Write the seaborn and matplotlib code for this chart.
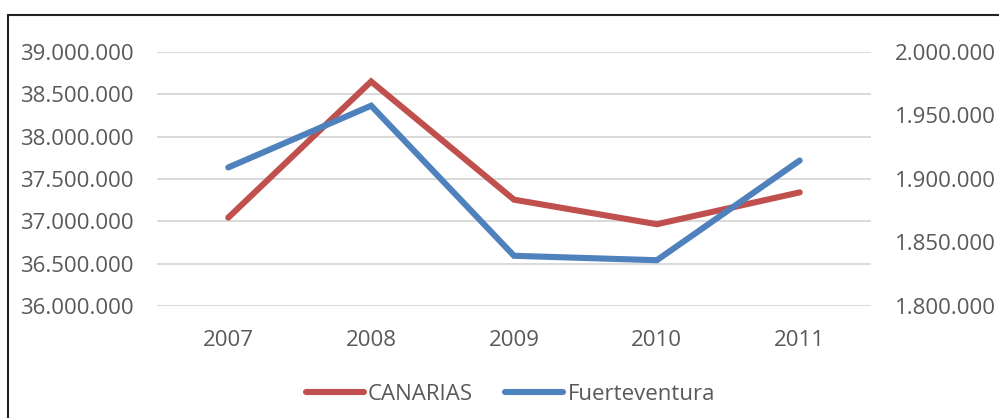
import pandas as pd
import matplotlib.pyplot as plt
import matplotlib.lines as mlines
import matplotlib.ticker as mticker
import seaborn as sns

# data
years = ["2007", "2008", "2009", "2010", "2011"]
canarias = [37043000, 38650000, 37255000, 36965000, 37341000]
fuerteventura = [1909000, 1957600, 1839500, 1836000, 1914500]

RED = "#C0504D"
BLUE = "#4F81BD"
TEXT = "#595959"
GRID = "#D9D9D9"

sns.set_style("white")
plt.rcParams["font.family"] = ["Open Sans", "DejaVu Sans"]
FS = 16


def dots(x, pos):
    return f"{int(round(x)):,}".replace(",", ".")


df = pd.DataFrame({"year": years, "CANARIAS": canarias, "Fuerteventura": fuerteventura})

fig = plt.figure(figsize=(9.99, 4.18), dpi=100)
ax = fig.add_axes([0.157, 0.268, 0.715, 0.608])
ax2 = ax.twinx()

sns.lineplot(data=df, x="year", y="CANARIAS", ax=ax, color=RED, linewidth=4.4,
             solid_capstyle="round", solid_joinstyle="miter", sort=False, zorder=3)
sns.lineplot(data=df, x="year", y="Fuerteventura", ax=ax2, color=BLUE, linewidth=4.4,
             solid_capstyle="round", solid_joinstyle="miter", sort=False, zorder=3)

ax.set_xlim(-0.5, len(years) - 0.5)
ax.set_ylim(36000000, 39000000)
ax2.set_ylim(1800000, 2000000)
ax.yaxis.set_major_locator(mticker.MultipleLocator(500000))
ax2.yaxis.set_major_locator(mticker.MultipleLocator(50000))
ax.yaxis.set_major_formatter(mticker.FuncFormatter(dots))
ax2.yaxis.set_major_formatter(mticker.FuncFormatter(dots))

ax.grid(axis="y", color=GRID, linewidth=1.4)
ax.set_axisbelow(True)
ax2.grid(False)

for a in (ax, ax2):
    a.set_xlabel("")
    a.set_ylabel("")
    for s in a.spines.values():
        s.set_visible(False)
    a.tick_params(length=0, labelsize=FS, labelcolor=TEXT)
ax.tick_params(axis="x", pad=17)
ax.tick_params(axis="y", pad=17)
ax2.tick_params(axis="y", pad=17)

handles = [
    mlines.Line2D([], [], color=RED, linewidth=4.4, solid_capstyle="round"),
    mlines.Line2D([], [], color=BLUE, linewidth=4.4, solid_capstyle="round"),
]
fig.legend(handles, ["CANARIAS", "Fuerteventura"], loc="center", bbox_to_anchor=(0.511, 0.057),
           ncol=2, frameon=False, fontsize=FS, labelcolor=TEXT, handlelength=2.6,
           handletextpad=0.2, columnspacing=1.45)

# outer chart border (only top and left visible in the crop)
fig.add_artist(mlines.Line2D([0.0085, 1.0], [0.963, 0.963], transform=fig.transFigure, color="#222222", linewidth=1.5))
fig.add_artist(mlines.Line2D([0.0085, 0.0085], [0.0, 0.963], transform=fig.transFigure, color="#222222", linewidth=1.5))

fig.savefig("out.png", dpi=100)
